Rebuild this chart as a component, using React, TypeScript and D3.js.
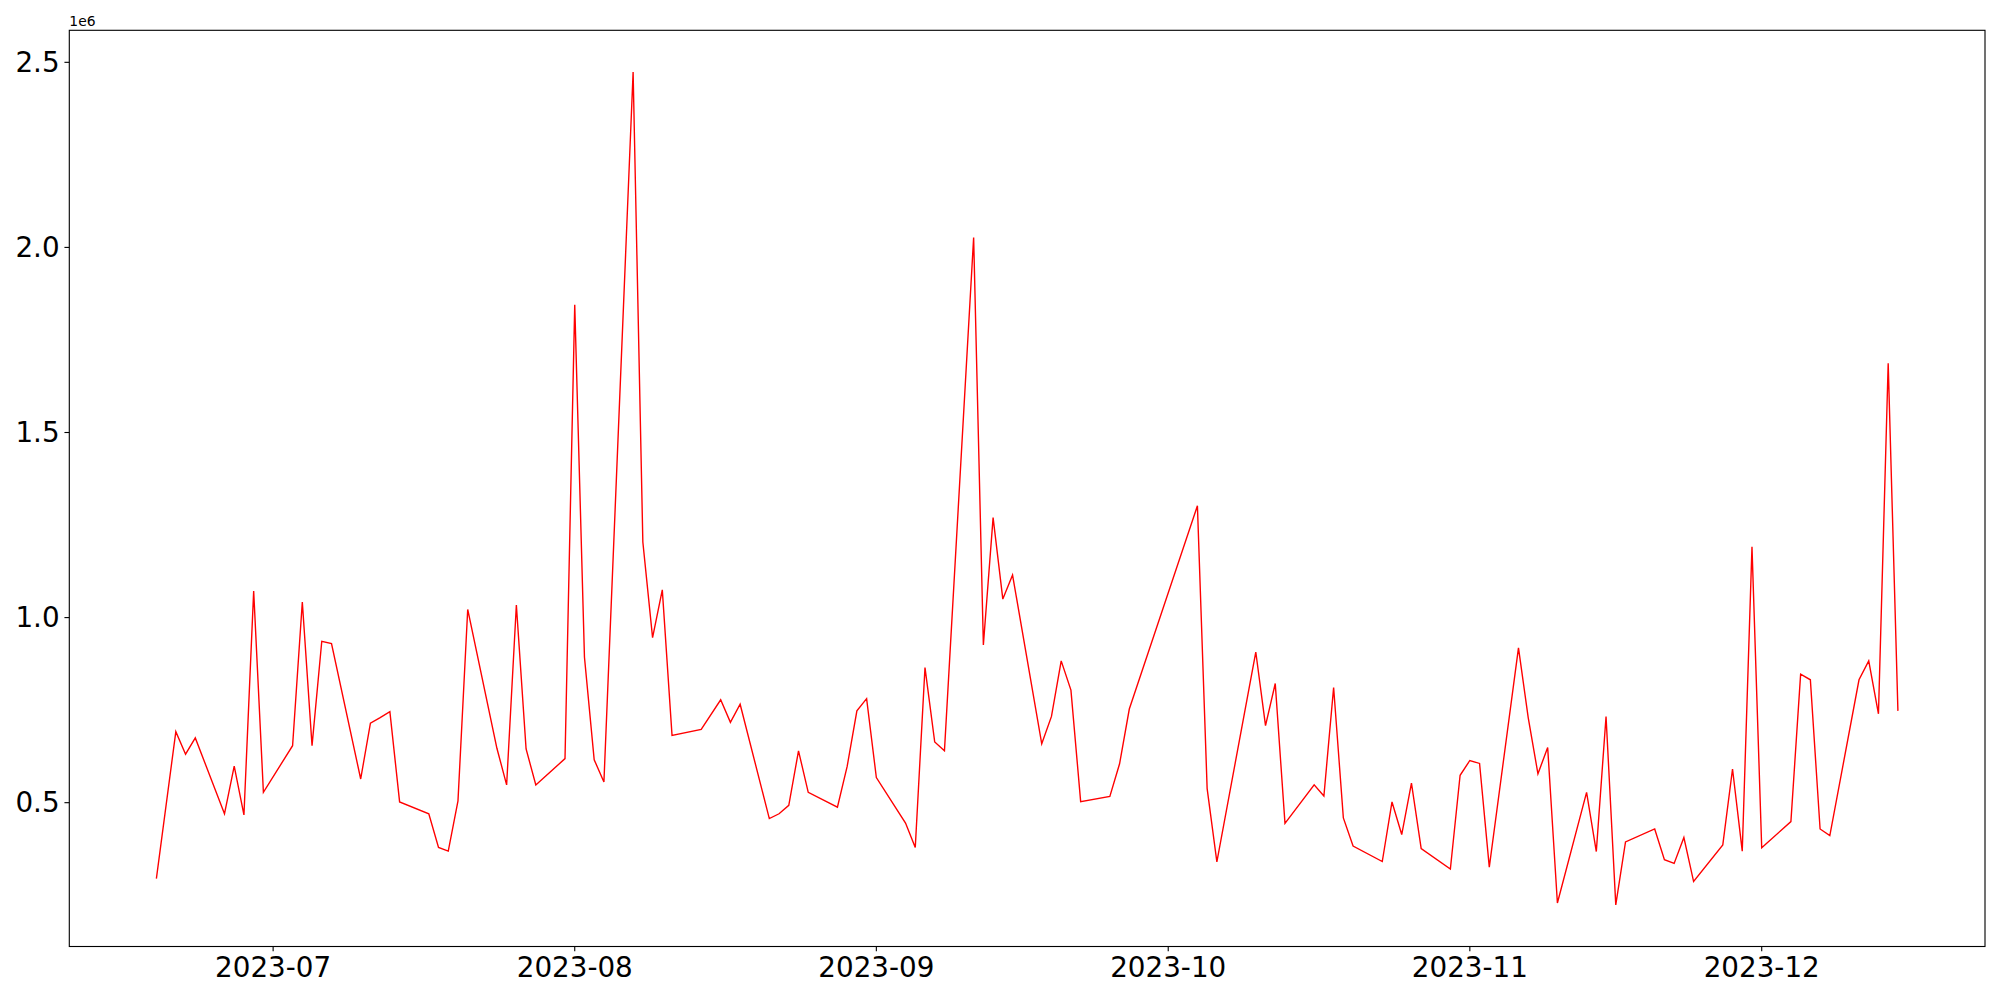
import React from "react";
import * as d3 from "d3";

const dates: string[] = [
  "2023-06-19","2023-06-21","2023-06-22","2023-06-23","2023-06-26","2023-06-27","2023-06-28","2023-06-29","2023-06-30",
  "2023-07-03","2023-07-04","2023-07-05","2023-07-06","2023-07-07","2023-07-10","2023-07-11","2023-07-12","2023-07-13","2023-07-14",
  "2023-07-17","2023-07-18","2023-07-19","2023-07-20","2023-07-21","2023-07-24","2023-07-25","2023-07-26","2023-07-27","2023-07-28",
  "2023-07-31","2023-08-01","2023-08-02","2023-08-03","2023-08-04","2023-08-07","2023-08-08","2023-08-09","2023-08-10","2023-08-11",
  "2023-08-14","2023-08-16","2023-08-17","2023-08-18","2023-08-21","2023-08-22","2023-08-23","2023-08-24","2023-08-25",
  "2023-08-28","2023-08-29","2023-08-30","2023-08-31","2023-09-01","2023-09-04","2023-09-05","2023-09-06","2023-09-07","2023-09-08",
  "2023-09-11","2023-09-12","2023-09-13","2023-09-14","2023-09-15","2023-09-18","2023-09-19","2023-09-20","2023-09-21","2023-09-22",
  "2023-09-25","2023-09-26","2023-09-27","2023-10-04","2023-10-05","2023-10-06","2023-10-10","2023-10-11","2023-10-12","2023-10-13",
  "2023-10-16","2023-10-17","2023-10-18","2023-10-19","2023-10-20","2023-10-23","2023-10-24","2023-10-25","2023-10-26","2023-10-27",
  "2023-10-30","2023-10-31","2023-11-01","2023-11-02","2023-11-03","2023-11-06","2023-11-07","2023-11-08","2023-11-09","2023-11-10",
  "2023-11-13","2023-11-14","2023-11-15","2023-11-16","2023-11-17","2023-11-20","2023-11-21","2023-11-22","2023-11-23","2023-11-24",
  "2023-11-27","2023-11-28","2023-11-29","2023-11-30","2023-12-01","2023-12-04","2023-12-05","2023-12-06","2023-12-07","2023-12-08",
  "2023-12-11","2023-12-12","2023-12-13","2023-12-14","2023-12-15",
];

// values in units of 1e6
const valuesMillions: number[] = [
  0.295, 0.692, 0.631, 0.675, 0.470, 0.599, 0.467, 1.072, 0.528,
  0.654, 1.042, 0.654, 0.936, 0.930, 0.564, 0.715, 0.730, 0.746, 0.502,
  0.470, 0.379, 0.369, 0.505, 1.022, 0.647, 0.548, 1.034, 0.645, 0.548,
  0.619, 1.845, 0.893, 0.616, 0.556, 2.474, 1.204, 0.946, 1.075, 0.682,
  0.698, 0.778, 0.717, 0.766, 0.457, 0.470, 0.493, 0.640, 0.528,
  0.488, 0.598, 0.748, 0.781, 0.568, 0.445, 0.379, 0.865, 0.664, 0.640,
  2.027, 0.926, 1.270, 1.050, 1.115, 0.659, 0.733, 0.883, 0.804, 0.503,
  0.517, 0.605, 0.753, 1.302, 0.538, 0.340, 0.907, 0.708, 0.822, 0.444,
  0.548, 0.518, 0.811, 0.459, 0.383, 0.341, 0.502, 0.414, 0.553, 0.376,
  0.321, 0.574, 0.614, 0.606, 0.326, 0.918, 0.730, 0.578, 0.649, 0.229,
  0.528, 0.368, 0.733, 0.224, 0.394, 0.429, 0.346, 0.336, 0.406, 0.287,
  0.386, 0.591, 0.369, 1.191, 0.378, 0.449, 0.847, 0.832, 0.429, 0.411,
  0.832, 0.883, 0.740, 1.687, 0.748,
];

const yTicks: number[] = [0.5, 1.0, 1.5, 2.0, 2.5];
const xTickMonths: string[] = ["2023-07-01", "2023-08-01", "2023-09-01", "2023-10-01", "2023-11-01", "2023-12-01"];
const offsetLabel = "1e6";

const W = 2000;
const H = 1000;
const M = { left: 69.3, right: 1985, top: 30.3, bottom: 946.5 };
const FONT = "'DejaVu Sans', sans-serif";
const TICK_FS = 27.78;
const TICK_LEN = 4.86;

export default function App() {
  const parse = d3.utcParse("%Y-%m-%d");
  const data = dates.map((d, i) => ({ date: parse(d) as Date, value: valuesMillions[i] }));

  const [x0, x1] = d3.extent(data, (d) => +d.date) as [number, number];
  const xPad = (x1 - x0) * 0.05;
  const x = d3.scaleUtc().domain([new Date(x0 - xPad), new Date(x1 + xPad)]).range([M.left, M.right]);

  const [y0, y1] = d3.extent(data, (d) => d.value) as [number, number];
  const yPad = (y1 - y0) * 0.05;
  const y = d3.scaleLinear().domain([y0 - yPad, y1 + yPad]).range([M.bottom, M.top]);

  const line = d3
    .line<{ date: Date; value: number }>()
    .x((d) => x(d.date))
    .y((d) => y(d.value));

  const fmtMonth = d3.utcFormat("%Y-%m");
  const xTicks = xTickMonths.map((s) => parse(s) as Date);

  return (
    <svg
      width={W}
      height={H}
      style={{ position: "absolute", left: 0, top: 0, background: "#fff" }}
      fontFamily={FONT}
    >
      <rect x={0} y={0} width={W} height={H} fill="#fff" />
      <defs>
        <clipPath id="plotclip">
          <rect x={M.left} y={M.top} width={M.right - M.left} height={M.bottom - M.top} />
        </clipPath>
      </defs>
      <path
        d={line(data) ?? ""}
        fill="none"
        stroke="#ff0000"
        strokeWidth={1.39}
        strokeLinejoin="miter"
        clipPath="url(#plotclip)"
      />
      {/* spines */}
      <rect
        x={M.left}
        y={M.top}
        width={M.right - M.left}
        height={M.bottom - M.top}
        fill="none"
        stroke="#000"
        strokeWidth={1.11}
      />
      {/* y ticks */}
      {yTicks.map((t) => (
        <g key={"y" + t}>
          <line x1={M.left - TICK_LEN} x2={M.left} y1={y(t)} y2={y(t)} stroke="#000" strokeWidth={1.11} />
          <text
            x={M.left - TICK_LEN - 4.86}
            y={y(t)}
            fontSize={TICK_FS}
            textAnchor="end"
            dominantBaseline="central"
            fill="#000"
          >
            {t.toFixed(1)}
          </text>
        </g>
      ))}
      {/* x ticks */}
      {xTicks.map((t) => (
        <g key={"x" + +t}>
          <line x1={x(t)} x2={x(t)} y1={M.bottom} y2={M.bottom + TICK_LEN} stroke="#000" strokeWidth={1.11} />
          <text
            x={x(t)}
            y={M.bottom + TICK_LEN + 4.86}
            fontSize={TICK_FS}
            textAnchor="middle"
            dominantBaseline="hanging"
            fill="#000"
          >
            {fmtMonth(t)}
          </text>
        </g>
      ))}
      <text x={M.left} y={M.top - 4.5} fontSize={13.9} fill="#000">
        {offsetLabel}
      </text>
    </svg>
  );
}
